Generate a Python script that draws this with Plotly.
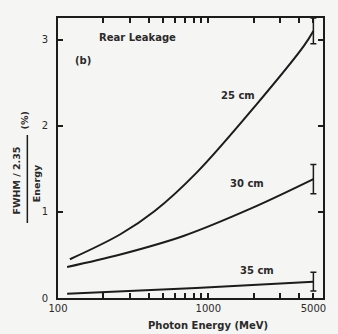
import plotly.graph_objects as go

# ---- data ----
e25 = [120, 260, 440, 830, 2075, 4335, 5000]
v25 = [0.45, 0.74, 1.01, 1.45, 2.24, 2.93, 3.10]
e30 = [115, 260, 683, 1927, 5000]
v30 = [0.36, 0.505, 0.72, 1.04, 1.38]
e35 = [115, 830, 5000]
v35 = [0.05, 0.115, 0.19]
err_energy = 5000
err25, err30, err35 = 0.15, 0.17, 0.11

x_tickvals = [100, 200, 300, 400, 500, 600, 700, 800, 900, 1000, 2000, 3000, 4000, 5000]
x_ticktext = ["100", "", "", "", "", "", "", "", "", "1000", "", "", "", "5000"]
y_tickvals = [0, 1, 2, 3]

INK = "#1c1c1c"
TXT = "#2a2a2a"
FONT = "DejaVu Sans"

fig = go.Figure()
for e, v in [(e25, v25), (e30, v30), (e35, v35)]:
    fig.add_trace(go.Scatter(x=e, y=v, mode="lines",
                             line=dict(color=INK, width=2, shape="spline", smoothing=1.0),
                             showlegend=False, hoverinfo="skip"))
for v, err in [(v25[-1], err25), (v30[-1], err30), (v35[-1], err35)]:
    fig.add_trace(go.Scatter(x=[err_energy], y=[v], mode="markers", marker=dict(size=1, color=INK),
                             error_y=dict(type="data", array=[err], color=INK, thickness=1.5, width=3),
                             showlegend=False, hoverinfo="skip"))

L, R, T, B = 58, 326, 18, 298
W, H = 338, 334

def px(x):
    return (x - L) / (R - L)

def py(y):
    return (B - y) / (B - T)

fig.update_layout(
    width=W, height=H,
    margin=dict(l=L, r=W - R, t=T, b=H - B),
    paper_bgcolor="#f5f5f3", plot_bgcolor="#f5f5f3",
    font=dict(family=FONT, color=TXT, size=10),
    xaxis=dict(type="log", range=[2, 3.763], tickvals=x_tickvals, ticktext=x_ticktext,
               ticks="inside", ticklen=5, tickwidth=1.5, tickcolor=INK,
               showline=True, linecolor=INK, linewidth=2, mirror="ticks",
               showgrid=False, zeroline=False,
               tickfont=dict(family=FONT, size=10, color=TXT)),
    yaxis=dict(range=[0, 3.25], tickvals=y_tickvals,
               ticks="inside", ticklen=5, tickwidth=1.5, tickcolor=INK,
               showline=True, linecolor=INK, linewidth=2, mirror="ticks",
               showgrid=False, zeroline=False, ticklabelstandoff=6,
               tickfont=dict(family=FONT, size=10, color=TXT)),
)

ann = [
    ("<b>Rear Leakage</b>", 138, 38, 10, 0),
    ("<b>(b)</b>", 83, 60, 10, 0),
    ("<b>25 cm</b>", 240, 95, 10, 0),
    ("<b>30 cm</b>", 249, 183, 10, 0),
    ("<b>35 cm</b>", 259, 270, 10, 0),
    ("<b>Photon Energy (MeV)</b>", 210, 325, 10, 0),
    ("<b>FWHM / 2.35</b>", 17, 180, 9.5, -90),
    ("<b>Energy</b>", 36, 183, 9.5, -90),
    ("<b>(%)</b>", 24, 120, 9.5, -90),
]
for text, x, y, size, ang in ann:
    fig.add_annotation(text=text, x=px(x), y=py(y), xref="paper", yref="paper",
                       xanchor="center", yanchor="middle",
                       showarrow=False, textangle=ang, font=dict(family=FONT, size=size, color=TXT))

# fraction bar of the y-axis title
fig.add_shape(type="line", xref="paper", yref="paper", x0=px(27), x1=px(27), y0=py(135), y1=py(223),
              line=dict(color=INK, width=1.5))

fig.write_html("out.html")
